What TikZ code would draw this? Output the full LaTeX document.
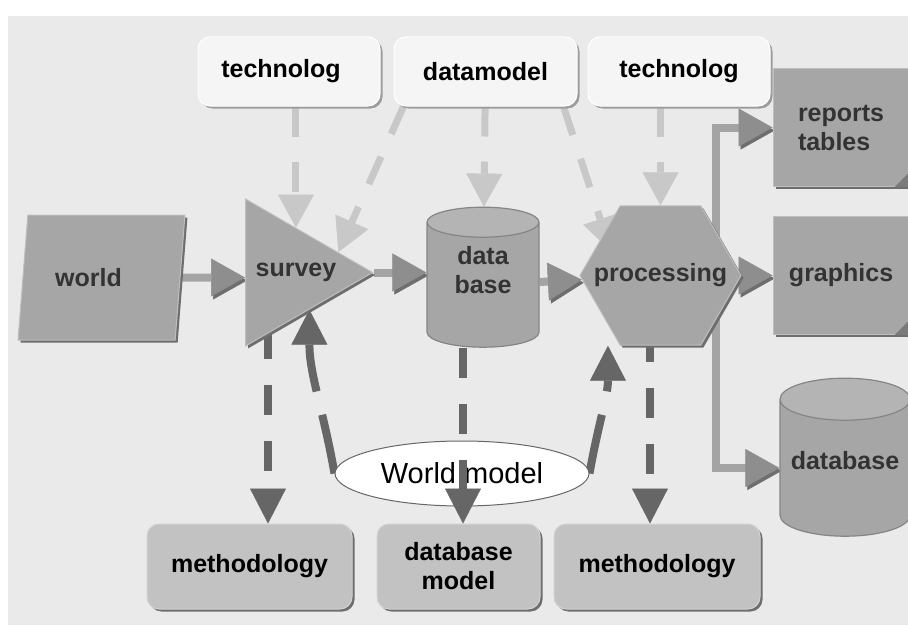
\documentclass[tikz,border=0pt]{standalone}
\usepackage{fontspec}
\setmainfont{Liberation Sans}
\usetikzlibrary{arrows.meta,positioning,shapes.geometric,calc}

\definecolor{bggray}{HTML}{EAEAEA}
\definecolor{boxlite}{HTML}{F5F5F5}
\definecolor{boxedge}{HTML}{9C9C9C}
\definecolor{shapegray}{HTML}{A6A6A6}
\definecolor{endgray}{HTML}{B4B4B4}
\definecolor{shadegray}{HTML}{6E6E6E}
\definecolor{drumedge}{HTML}{858585}
\definecolor{edgelite}{HTML}{BEBEBE}
\definecolor{lowgray}{HTML}{C2C2C2}
\definecolor{lowedge}{HTML}{D2D2D2}
\definecolor{pipegray}{HTML}{A4A4A4}
\definecolor{headgray}{HTML}{8E8E8E}
\definecolor{dashlite}{HTML}{C8C8C8}
\definecolor{dashdark}{HTML}{666666}
\definecolor{textdark}{HTML}{333333}
\definecolor{foldgray}{HTML}{7A7A7A}

\pgfdeclarelayer{back}
\pgfdeclarelayer{under}
\pgfsetlayers{back,under,main}

\begin{document}
\begin{tikzpicture}[x=1pt, y=-1pt,
    font=\fontsize{25}{29}\selectfont\bfseries,
    node distance=13pt,
    dropgray/.style={preaction={fill=#1, transform canvas={shift={(2.5pt,-2.5pt)}}}},
    topbox/.style={draw=white, line width=1pt, rounded corners=12pt, fill=boxlite,
                   dropgray=boxedge, minimum width=182pt, minimum height=69pt, text=black},
    lowbox/.style={draw=lowedge, line width=1pt, rounded corners=12pt, fill=lowgray,
                   dropgray=shadegray, minimum width=205pt, minimum height=85pt,
                   align=center, text=black},
    greybody/.style={fill=shapegray, draw=edgelite, line width=1pt, dropgray=shadegray,
                   text=textdark, inner sep=0pt, align=center},
    paper/.style={greybody, rectangle, minimum width=136pt, minimum height=118pt},
    drum/.style={draw=drumedge, line width=1.2pt, inner sep=0pt, cylinder, aspect=1,
                 shape border rotate=90, cylinder uses custom fill,
                 cylinder body fill=shapegray, cylinder end fill=endgray},
    pipe/.style={draw=pipegray, line width=8pt,
                 -{Triangle[length=34pt,width=38pt,line width=0.5pt,color=headgray]},
                 preaction={draw=shadegray,
                   arrows={-{Triangle[length=34pt,width=38pt,line width=0.5pt,color=shadegray]}},
                   transform canvas={shift={(2pt,-3pt)}}}},
    litearrow/.style={draw=dashlite, line width=7pt, dash pattern=on 30pt off 25pt,
                 -{Triangle[length=33pt,width=36pt,line width=0.5pt]}},
    darkarrow/.style={draw=dashdark, line width=8pt, dash pattern=on 30pt off 26pt,
                 -{Triangle[length=35pt,width=36pt,line width=0.5pt]}},
    darkcurve/.style={darkarrow, dash pattern=on 60pt off 24pt}
]
\useasboundingbox (0,0) rectangle (908,626);
\begin{pgfonlayer}{back}
  \fill[white] (0,0) rectangle (908,626);
  \fill[bggray] (8,16) rectangle (908,625);
\end{pgfonlayer}

% upper inputs
\node[topbox] (tech1) at (289,71.5) {technolog\hspace*{16pt}};
\node[topbox, minimum width=183pt, right=13pt of tech1] (dmod) {datamodel};
\node[topbox, right=10pt of dmod] (tech2) {technolog};

% main chain
\node[greybody, trapezium, trapezium left angle=71.5, trapezium right angle=108.5,
      trapezium stretches=true, minimum width=167pt, minimum height=125pt]
      (world) at (101.5,277.5) {world\hspace*{26pt}};
\node[greybody, isosceles triangle, isosceles triangle stretches,
      minimum width=147pt, minimum height=127pt, anchor=lower side]
      (survey) at (245,272.5) {survey};
\node[drum, minimum width=112pt, minimum height=140pt,
      label={[yshift=15pt, align=center, text=textdark]center:data\\base}]
      (db) at (483,285) {\rule{30pt}{0pt}};
\node[greybody, regular polygon, regular polygon sides=6, minimum size=161pt]
      (proc) at (660.5,275.5) {\makebox[0pt]{processing}};

% outputs
\node[paper, right=31pt of proc] (graphics) {graphics};
\node[paper, align=left, above=29pt of graphics] (reports) {reports\\tables};
\node[drum, minimum width=130pt, minimum height=158pt,
      label={[yshift=7pt, text=textdark]center:database}] (dbout) at (845,468)
      {\rule{42pt}{0pt}};
\foreach \p in {reports,graphics}
  \fill[foldgray] ([xshift=-15pt]\p.south east) -- ([yshift=15pt]\p.south east)
                  -- (\p.south east) -- cycle;

% lower results
\node[lowbox] (meth1) at (249.5,566.5) {methodology};
\node[lowbox, minimum width=163pt, right=24pt of meth1] (dbm) {database\\model};
\node[lowbox, minimum width=206pt, right=13pt of dbm] (meth2) {methodology};
\node[ellipse, draw=dashdark, fill=white, line width=1pt, inner sep=0pt,
      minimum width=254pt, minimum height=65pt,
      font=\fontsize{29}{32}\selectfont\mdseries] (wm) at (462,473.5) {World model};

\coordinate (m1top) at ([xshift=18.5pt]meth1.north);
\coordinate (dbmtop) at ([xshift=4.5pt]dbm.north);
\coordinate (m2top) at ([xshift=-7pt]meth2.north);

\begin{pgfonlayer}{under}
\draw[pipe] (world) -- (world.center -| survey.lower side);
\draw[pipe] (survey.apex) -- (survey.apex -| db.west);
\draw[pipe] (db) -- (proc);
\draw[pipe] (proc) -- (graphics);
\draw[pipe] ([xshift=55pt]proc.center) |- (reports.west);
\draw[pipe] ([xshift=55pt]proc.center) |- (dbout.west);

\draw[litearrow] (survey.north |- tech1.south) -- (survey.north);
\draw[litearrow] ([xshift=10pt]dmod.south west) -- ($(survey.left side)!0.45!(survey.apex)$);
\draw[litearrow] (dmod) -- (db);
\draw[litearrow] ([xshift=-14pt]dmod.south east) -- ([xshift=-50pt,yshift=25pt]proc.center);
\draw[litearrow] (proc.north |- tech2.south) -- (proc.north);

\draw[darkarrow] (survey.center -| m1top) -- (m1top);
\draw[darkarrow] (proc.center -| m2top) -- (m2top);
\draw[darkcurve] (wm.west) to[out=100,in=-90] (survey.right side);
\draw[darkcurve] (wm.east) to[out=80,in=-90] ([xshift=-12pt]proc.corner 4);
\end{pgfonlayer}

\draw[darkarrow] (db.south -| dbmtop) -- (dbmtop);
\end{tikzpicture}
\end{document}
